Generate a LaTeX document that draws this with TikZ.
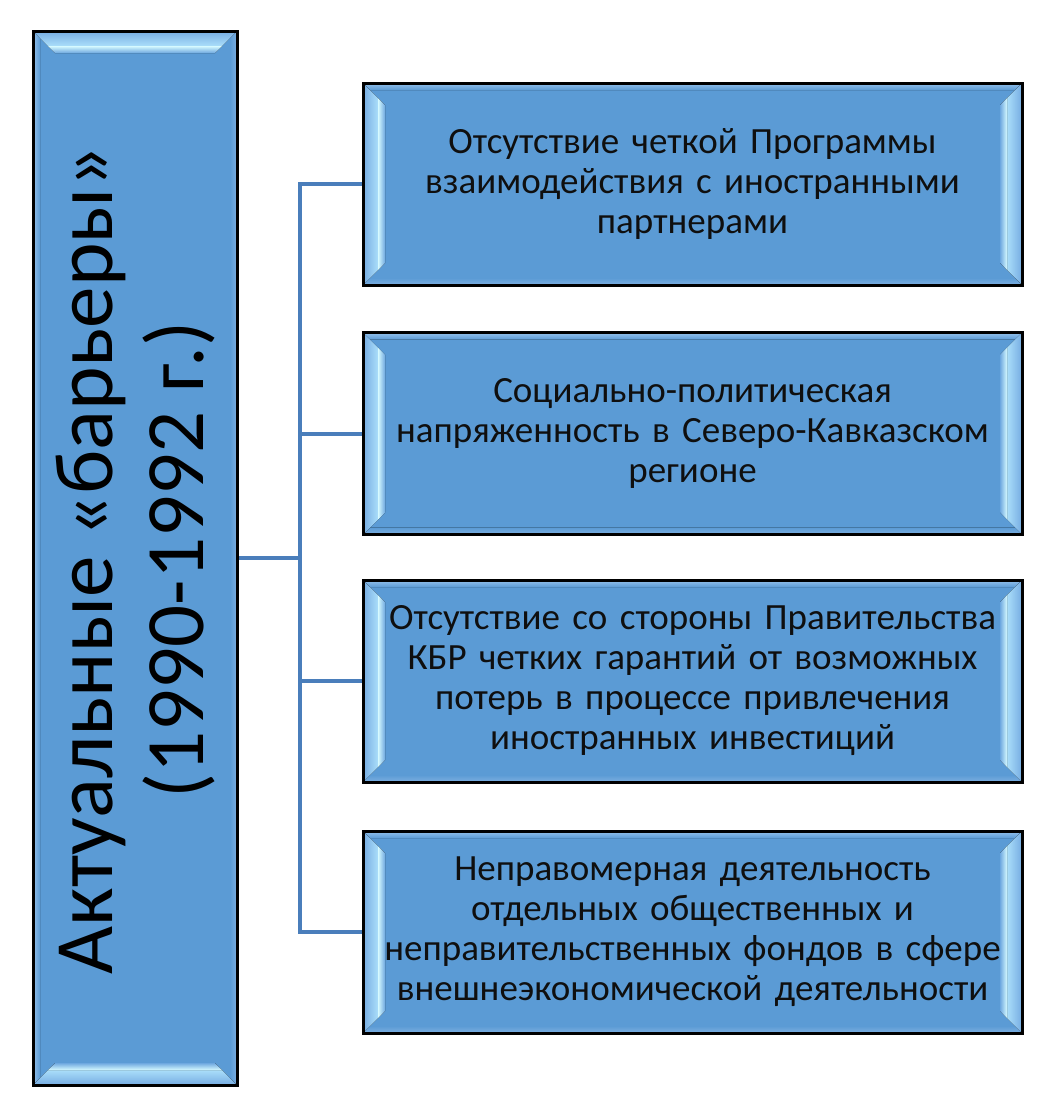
\documentclass[tikz,border=0pt]{standalone}
\usepackage{fontspec}
\setmainfont{Carlito}
\usetikzlibrary{calc}
\pgfdeclarelayer{background}
\pgfsetlayers{background,main}
\definecolor{boxblue}{RGB}{91,155,213}
\definecolor{connblue}{RGB}{74,126,187}
\definecolor{hlA}{RGB}{118,172,226}
\definecolor{hlB}{RGB}{170,222,250}
\definecolor{hlC}{RGB}{214,250,255}
\definecolor{hlD}{RGB}{110,168,224}
\definecolor{bandT}{RGB}{150,194,236}
\definecolor{bandB}{RGB}{125,175,224}
\definecolor{txt}{RGB}{15,15,15}

% vertical (left/right) bevels for node #1
\newcommand\sidebevel[1]{%
 \fill[left color=hlA,right color=hlB] (#1.north west) -- ([shift={(15pt,-15pt)}]#1.north west) -- ([shift={(15pt,15pt)}]#1.south west) -- (#1.south west) -- cycle;
 \fill[left color=hlC,right color=hlD] ([shift={(15pt,-15pt)}]#1.north west) -- ([shift={(22pt,-22pt)}]#1.north west) -- ([shift={(22pt,22pt)}]#1.south west) -- ([shift={(15pt,15pt)}]#1.south west) -- cycle;
 \fill[right color=hlA,left color=hlB] (#1.north east) -- ([shift={(-15pt,-15pt)}]#1.north east) -- ([shift={(-15pt,15pt)}]#1.south east) -- (#1.south east) -- cycle;
 \fill[right color=hlC,left color=hlD] ([shift={(-15pt,-15pt)}]#1.north east) -- ([shift={(-22pt,-22pt)}]#1.north east) -- ([shift={(-22pt,22pt)}]#1.south east) -- ([shift={(-15pt,15pt)}]#1.south east) -- cycle;
}
% thin top/bottom bands
\newcommand\tbband[1]{%
 \fill[top color=bandT,bottom color=boxblue] (#1.north west) -- (#1.north east) -- ([shift={(-7pt,-7pt)}]#1.north east) -- ([shift={(7pt,-7pt)}]#1.north west) -- cycle;
 \fill[bottom color=bandB,top color=boxblue] (#1.south west) -- (#1.south east) -- ([shift={(-7pt,7pt)}]#1.south east) -- ([shift={(7pt,7pt)}]#1.south west) -- cycle;
}
% horizontal (top/bottom) bevels for node #1
\newcommand\topbevel[1]{%
 \fill[top color=hlA,bottom color=hlB] (#1.north west) -- (#1.north east) -- ([shift={(-15pt,-15pt)}]#1.north east) -- ([shift={(15pt,-15pt)}]#1.north west) -- cycle;
 \fill[top color=hlC,bottom color=hlD] ([shift={(15pt,-15pt)}]#1.north west) -- ([shift={(-15pt,-15pt)}]#1.north east) -- ([shift={(-22pt,-22pt)}]#1.north east) -- ([shift={(22pt,-22pt)}]#1.north west) -- cycle;
 \fill[bottom color=hlA,top color=hlB] (#1.south west) -- (#1.south east) -- ([shift={(-15pt,15pt)}]#1.south east) -- ([shift={(15pt,15pt)}]#1.south west) -- cycle;
 \fill[bottom color=hlC,top color=hlD] ([shift={(15pt,15pt)}]#1.south west) -- ([shift={(-15pt,15pt)}]#1.south east) -- ([shift={(-22pt,22pt)}]#1.south east) -- ([shift={(22pt,22pt)}]#1.south west) -- cycle;
}
\newcommand\lrband[1]{%
 \fill[left color=bandT,right color=boxblue] (#1.north west) -- ([shift={(7pt,-7pt)}]#1.north west) -- ([shift={(7pt,7pt)}]#1.south west) -- (#1.south west) -- cycle;
 \fill[right color=bandB,left color=boxblue] (#1.north east) -- ([shift={(-7pt,-7pt)}]#1.north east) -- ([shift={(-7pt,7pt)}]#1.south east) -- (#1.south east) -- cycle;
}

\begin{document}
\begin{tikzpicture}[x=1pt,y=-1pt,
  framebox/.style={draw=black,line width=3pt,outer sep=0pt,inner sep=0pt},
  itembox/.style={framebox,minimum width=659pt,minimum height=202pt,text width=650pt,align=center,text=txt,font=\fontsize{37}{40}\selectfont},
  conn/.style={draw=connblue,line width=4pt}]
\useasboundingbox (0,0) rectangle (1044,1117);

\node[framebox,minimum width=204pt,minimum height=1054pt] (L) at (135,558) {};
\node[rotate=90,align=center,text=black,font=\fontsize{83}{91}\selectfont] (Lt) at (136,560) {Актуальные «барьеры»\\(1990-1992 г.)};

\node[itembox] (b1) at (692.5,184) {Отсутствие четкой Программы\\взаимодействия с иностранными\\партнерами};
\node[itembox] (b2) at (692.5,433.5) {Социально-политическая\\напряженность в Северо-Кавказском\\регионе};
\node[itembox] (b3) at (692.5,681) {Отсутствие со стороны Правительства\\КБР четких гарантий от возможных\\потерь в процессе привлечения\\иностранных инвестиций};
\node[itembox] (b4) at (692.5,932) {Неправомерная деятельность\\отдельных общественных и\\неправительственных фондов в сфере\\внешнеэкономической деятельности};

\begin{pgfonlayer}{background}
 \fill[white] (0,0) rectangle (1044,1117);
 \fill[boxblue] (L.north west) rectangle (L.south east);
 \lrband{L}
 \topbevel{L}
 \foreach \b in {b1,b2,b3,b4}{
   \fill[boxblue] (\b.north west) rectangle (\b.south east);
   \tbband{\b}
   \sidebevel{\b}
 }
 \draw[conn] (L.east) -- ++(63,0) coordinate (J);
 \draw[conn] (b1.west) -| (J);
 \draw[conn] (b4.west) -| (J);
 \draw[conn] (b2.west) -- (b2.west -| J);
 \draw[conn] (b3.west) -- (b3.west -| J);
\end{pgfonlayer}
\end{tikzpicture}
\end{document}
